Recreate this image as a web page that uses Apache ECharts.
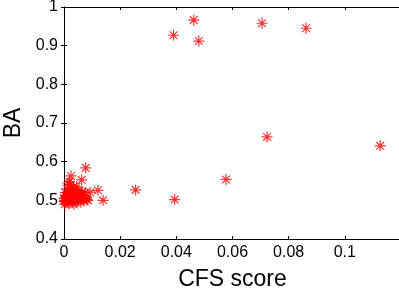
<!DOCTYPE html>
<html lang="en" style="height: 100%">
<head>
  <meta charset="utf-8">
</head>
<body style="height: 100%; margin: 0; background: #fff">
<div id="container" style="width: 399px; height: 295px"></div>
<script type="text/javascript" src="https://cdn.jsdelivr.net/npm/echarts@6/dist/echarts.min.js"></script>
<script type="text/javascript">
  // CFS score (x) and BA (y)
  var cfsScore = [
    0.0002, 0.0005, 0.0008, 0.0010, 0.0010, 0.0012, 0.0015, 0.0015, 0.0018, 0.0020,
    0.0020, 0.0022, 0.0023, 0.0025, 0.0025, 0.0028, 0.0030, 0.0030, 0.0032, 0.0035,
    0.0035, 0.0038, 0.0040, 0.0040, 0.0042, 0.0045, 0.0048, 0.0050, 0.0050, 0.0055,
    0.0060, 0.0060, 0.0065, 0.0070, 0.0070, 0.0075, 0.0080, 0.0085, 0.0005, 0.0010,
    0.0015, 0.0020, 0.0003, 0.0006, 0.0045, 0.0052, 0.0035, 0.0065, 0.0000, 0.0001,
    0.0063, 0.0077, 0.0093, 0.0081, 0.0121, 0.0139, 0.0255, 0.0394, 0.0390, 0.0462,
    0.0480, 0.0705, 0.0862, 0.0723, 0.1126, 0.0577
  ];
  var ba = [
    0.500, 0.505, 0.498, 0.510, 0.495, 0.503, 0.515, 0.500, 0.492, 0.520,
    0.507, 0.530, 0.540, 0.563, 0.500, 0.512, 0.525, 0.495, 0.505, 0.518,
    0.535, 0.500, 0.510, 0.528, 0.495, 0.515, 0.503, 0.520, 0.498, 0.508,
    0.515, 0.495, 0.505, 0.512, 0.500, 0.520, 0.505, 0.500, 0.520, 0.530,
    0.545, 0.548, 0.490, 0.512, 0.535, 0.525, 0.490, 0.522, 0.505, 0.497,
    0.553, 0.584, 0.521, 0.502, 0.526, 0.500, 0.527, 0.502, 0.927, 0.966,
    0.912, 0.958, 0.945, 0.664, 0.641, 0.554
  ];
  var xTicks = [0, 0.02, 0.04, 0.06, 0.08, 0.1, 0.12];
  var yTicks = [0.4, 0.5, 0.6, 0.7, 0.8, 0.9, 1];

  var points = cfsScore.map(function (x, i) { return [x, ba[i]]; });

  var myChart = echarts.init(document.getElementById('container'), null, { renderer: 'canvas' });

  var font = 'Liberation Sans, Arial, Helvetica, sans-serif';
  var xMin = xTicks[0], xMax = xTicks[xTicks.length - 1];
  var yMin = yTicks[0], yMax = yTicks[yTicks.length - 1];
  var axisLine = { show: true, lineStyle: { color: '#000', width: 1 } };
  var tick = { show: true, inside: true, length: 3, lineStyle: { color: '#000' } };

  var option = {
    animation: false,
    grid: {
      left: 64, right: -2, top: 7, bottom: 56,
      containLabel: false, outerBoundsMode: 'none'
    },
    xAxis: [
      {
        type: 'value', min: xMin, max: xMax, interval: 0.02,
        name: 'CFS score', nameLocation: 'middle', nameGap: 29,
        nameTextStyle: { fontFamily: font, fontSize: 23, color: '#000' },
        axisLine: axisLine, axisTick: tick, splitLine: { show: false },
        axisLabel: {
          fontFamily: font, fontSize: 16, color: '#000', margin: 6, showMaxLabel: false
        }
      },
      {
        type: 'value', position: 'top', min: xMin, max: xMax, interval: 0.02,
        axisLine: axisLine, axisTick: tick, axisLabel: { show: false }, splitLine: { show: false }
      }
    ],
    yAxis: [
      {
        type: 'value', min: yMin, max: yMax, interval: 0.1,
        name: 'BA', nameLocation: 'middle', nameGap: 39,
        nameTextStyle: { fontFamily: font, fontSize: 23, color: '#000' },
        axisLine: axisLine, axisTick: tick, splitLine: { show: false },
        axisLabel: { fontFamily: font, fontSize: 16, color: '#000', margin: 6 }
      },
      {
        type: 'value', position: 'right', min: yMin, max: yMax, interval: 0.1,
        axisLine: axisLine, axisTick: tick, axisLabel: { show: false }, splitLine: { show: false }
      }
    ],
    series: [
      {
        type: 'scatter',
        data: points,
        symbol: 'path://M5,0L5,10M0,5L10,5M1.5,1.5L8.5,8.5M1.5,8.5L8.5,1.5',
        symbolSize: 11,
        itemStyle: { color: 'transparent', borderColor: '#ff0000', borderWidth: 1.2 },
        clip: false
      }
    ]
  };

  myChart.setOption(option);
  window.addEventListener('resize', myChart.resize);
</script>
</body>
</html>
